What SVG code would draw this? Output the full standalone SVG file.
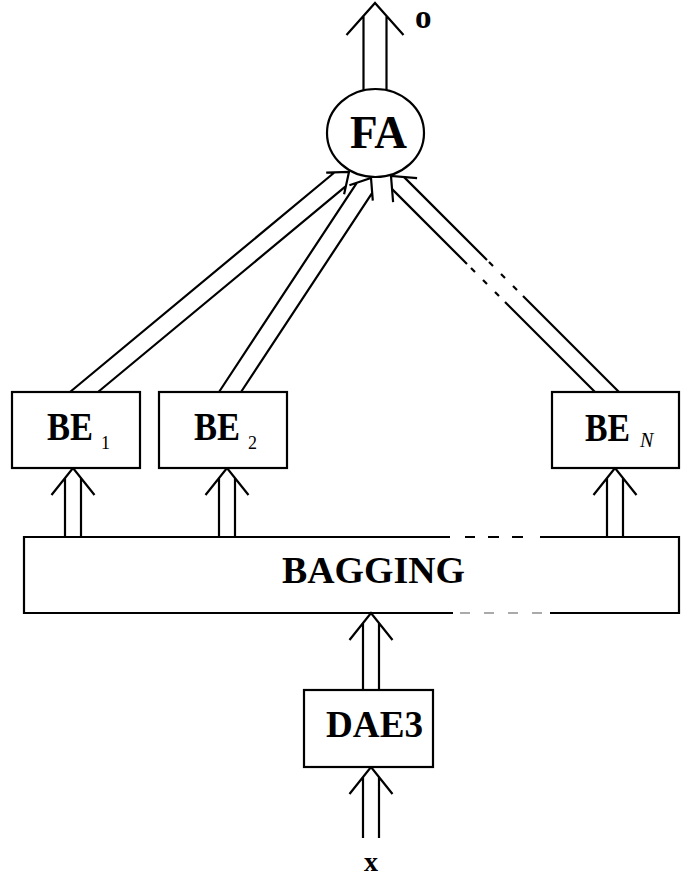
<svg xmlns="http://www.w3.org/2000/svg" width="697" height="880" viewBox="0 0 697 880">
<style>
.ln{fill:none;stroke:#000;stroke-width:2.2;stroke-linejoin:miter;stroke-linecap:butt}
.box{fill:#fff;stroke:#000;stroke-width:2.2}
.gd{fill:none;stroke:#aaa;stroke-width:2}
.t{font-family:"Liberation Serif","Times New Roman",serif;font-weight:bold;fill:#000}
.sub{font-family:"Liberation Serif","Times New Roman",serif;font-weight:normal;fill:#000}
</style>
<rect width="697" height="880" fill="#fff"/>
<g id="connectors">
  <path class="ln" d="M363.5,92 V15.9 M386.5,92 V15.9 M346.5,35 L375,3 L403.5,35"/>
  <path class="ln" d="M70,392 L334.4,172.5 M98,392 L345.9,186.2 M326.2,172.7 L349,172 L344.1,194.3"/>
  <path class="ln" d="M219,392 L356.8,182.8 M241,392 L372.2,192.9 M349.4,185.3 L371,178 L372.8,200.7"/>
  <path class="ln" d="M595,392 L505,302 M499,296 L495,292 M487,284 L483,280 M475,272 L471,268 M467,264 L392.1,189.1"/>
  <path class="ln" d="M619,392 L523,296 M517,290 L513,286 M505,278 L501,274 M493,266 L489,262 M487,260 L404.1,177.1"/>
  <path class="ln" d="M417.1,178.1 L391,176 L393.1,202.1"/>
  <path class="ln" d="M65,537 V478 M81,537 V478 M51.5,495 L73,468 L94.5,495"/>
  <path class="ln" d="M219,537 V478 M235,537 V478 M205.5,495 L227,468 L248.5,495"/>
  <path class="ln" d="M607,537 V478 M623,537 V478 M593.5,495 L615,468 L636.5,495"/>
  <path class="ln" d="M363,690 V623 M379,690 V623 M349.5,640 L371,613 L392.5,640"/>
  <path class="ln" d="M363,838 V777 M379,838 V777 M349.5,794 L371,767 L392.5,794"/>
</g>
<g id="FA">
  <ellipse class="box" cx="375.5" cy="133" rx="48.5" ry="44"/>
  <text class="t" x="350" y="148" font-size="46" textLength="57" lengthAdjust="spacingAndGlyphs">FA</text>
</g>
<g id="out-label">
  <text class="t" x="415" y="28" font-size="33">o</text>
</g>
<g id="BE1">
  <rect class="box" x="12" y="392" width="128" height="76"/>
  <text class="t" x="47" y="440" font-size="40" textLength="46" lengthAdjust="spacingAndGlyphs">BE</text>
  <text class="sub" x="101" y="449" font-size="18">1</text>
</g>
<g id="BE2">
  <rect class="box" x="159" y="392" width="128" height="76"/>
  <text class="t" x="194" y="440" font-size="40" textLength="46" lengthAdjust="spacingAndGlyphs">BE</text>
  <text class="sub" x="248" y="449" font-size="18">2</text>
</g>
<g id="BEN">
  <rect class="box" x="552" y="392" width="127" height="76"/>
  <text class="t" x="585" y="441" font-size="40" textLength="45" lengthAdjust="spacingAndGlyphs">BE</text>
  <text class="sub" x="640" y="447" font-size="20" font-style="italic">N</text>
</g>
<g id="BAGGING">
  <path class="ln" d="M450,537 H24 V613 H453 M540,537 H679 V613 H550"/>
  <path class="ln" d="M465,537 H475 M488,537 H499 M512,537 H523"/>
  <path class="gd" d="M460,613 H470 M484,613 H494 M508,613 H518 M532,613 H542"/>
  <text class="t" x="282" y="583" font-size="38" textLength="183" lengthAdjust="spacingAndGlyphs">BAGGING</text>
</g>
<g id="DAE3">
  <rect class="box" x="304" y="690" width="129" height="77"/>
  <text class="t" x="326" y="737" font-size="38" textLength="97" lengthAdjust="spacingAndGlyphs">DAE3</text>
</g>
<g id="in-label">
  <text class="t" x="371" y="871" font-size="28" text-anchor="middle">x</text>
</g>
</svg>
